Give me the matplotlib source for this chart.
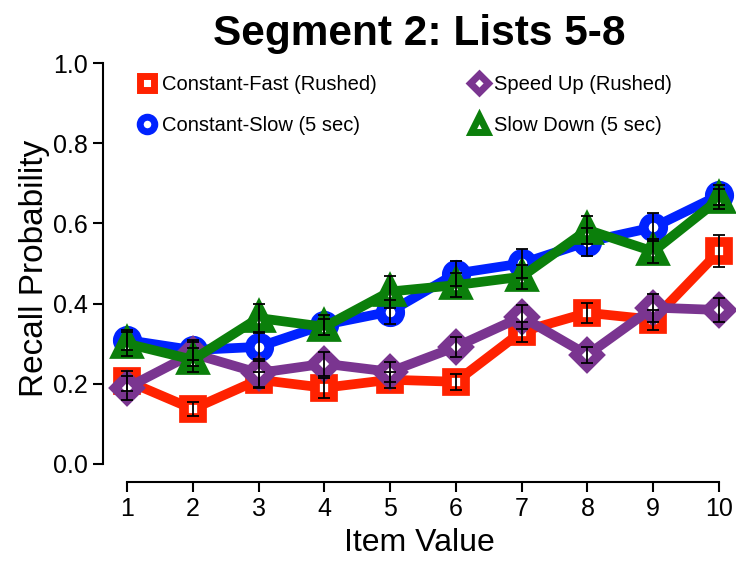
import matplotlib.pyplot as plt
from matplotlib.lines import Line2D

plt.rcParams['font.family'] = ['Liberation Sans', 'DejaVu Sans']

items = [1, 2, 3, 4, 5, 6, 7, 8, 9, 10]

const_fast = [0.207, 0.137, 0.21, 0.19, 0.21, 0.205, 0.33, 0.377, 0.36, 0.53]
const_fast_err = [0.025, 0.017, 0.02, 0.025, 0.02, 0.02, 0.025, 0.025, 0.025, 0.04]

const_slow = [0.309, 0.284, 0.292, 0.347, 0.38, 0.475, 0.50, 0.554, 0.59, 0.67]
const_slow_err = [0.025, 0.025, 0.035, 0.025, 0.03, 0.03, 0.035, 0.035, 0.035, 0.025]

speed_up = [0.19, 0.275, 0.227, 0.25, 0.23, 0.292, 0.367, 0.272, 0.39, 0.384]
speed_up_err = [0.03, 0.03, 0.035, 0.03, 0.025, 0.025, 0.03, 0.02, 0.035, 0.03]

slow_down = [0.30, 0.26, 0.364, 0.342, 0.43, 0.446, 0.467, 0.584, 0.53, 0.66]
slow_down_err = [0.03, 0.03, 0.035, 0.02, 0.04, 0.03, 0.03, 0.035, 0.03, 0.025]

series = [
    ('Constant-Fast (Rushed)', const_fast, const_fast_err, '#ff2200', 's', 13),
    ('Constant-Slow (5 sec)', const_slow, const_slow_err, '#0022ff', 'o', 14),
    ('Speed Up (Rushed)', speed_up, speed_up_err, '#7a3590', 'D', 12),
    ('Slow Down (5 sec)', slow_down, slow_down_err, '#0b7f0b', '^', 15),
]

fig = plt.figure(figsize=(7.36, 5.63), dpi=100)
ax = fig.add_axes([0.140, 0.1439, 0.860, 0.7584])

handles = {}
for name, vals, err, color, marker, ms in series:
    ax.plot(items, vals, color=color, lw=7, marker=marker, ms=ms,
            mfc='white', mec=color, mew=7, clip_on=False, zorder=2)
    handles[name] = Line2D([], [], ls='none', marker=marker, ms=ms * 0.75,
                           mfc='white', mec=color, mew=5)

for name, vals, err, color, marker, ms in series:
    ax.errorbar(items, vals, yerr=err, fmt='none', ecolor='black',
                elinewidth=1.3, capsize=4.3, capthick=1.3, zorder=5,
                clip_on=False)

ax.set_xlim(0.635, 10.26)
ax.set_ylim(-0.045, 1.02)
ax.set_xticks(items)
ax.set_yticks([0.0, 0.2, 0.4, 0.6, 0.8, 1.0])
ax.set_yticklabels(['0.0', '0.2', '0.4', '0.6', '0.8', '1.0'])
ax.spines['top'].set_visible(False)
ax.spines['right'].set_visible(False)
ax.spines['left'].set_bounds(0, 1)
ax.spines['bottom'].set_bounds(1, 10)
for s in ['left', 'bottom']:
    ax.spines[s].set_linewidth(1.5)
ax.tick_params(direction='out', length=7, width=1.5, labelsize=18, pad=4)

ax.set_xlabel('Item Value', fontsize=23, labelpad=5)
ax.set_ylabel('Recall Probability', fontsize=24, labelpad=2)
ax.set_title('Segment 2: Lists 5-8', fontsize=30.5, fontweight='bold', pad=7)

order = ['Constant-Fast (Rushed)', 'Constant-Slow (5 sec)',
         'Speed Up (Rushed)', 'Slow Down (5 sec)']
ax.legend([handles[k] for k in order], order, ncol=2, frameon=False,
          loc='upper left', bbox_to_anchor=(0.027, 0.995), fontsize=14.5,
          handlelength=0.9, handletextpad=0.3, labelspacing=1.1,
          columnspacing=4.6)

plt.savefig('out.png', dpi=100)
plt.close()
